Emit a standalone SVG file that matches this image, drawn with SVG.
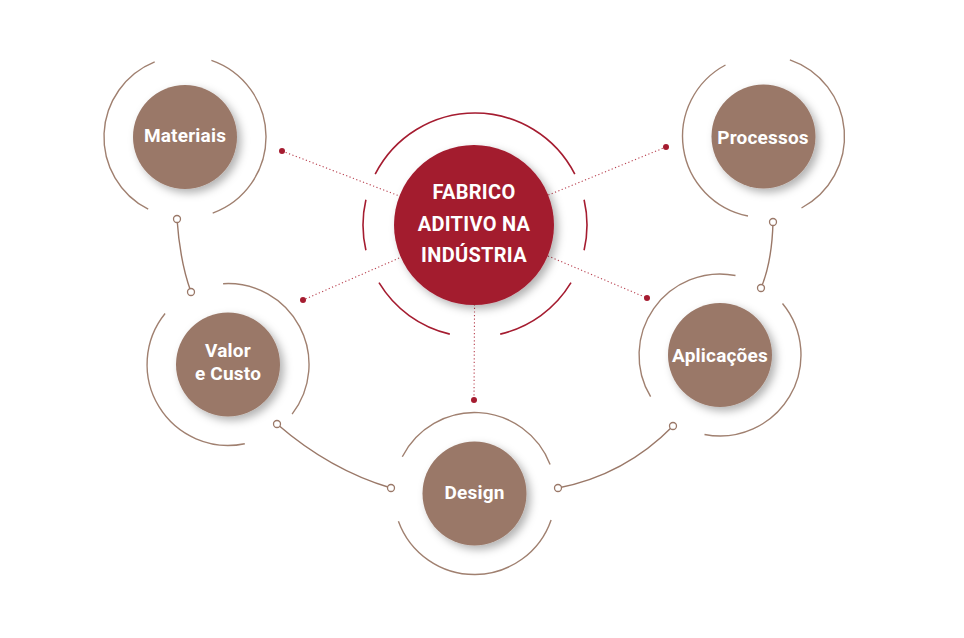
<svg xmlns="http://www.w3.org/2000/svg" width="964" height="638" viewBox="0 0 964 638">
<defs>
<filter id="sh" x="-30%" y="-30%" width="170%" height="170%">
<feDropShadow dx="4" dy="4" stdDeviation="4" flood-color="#000" flood-opacity="0.3"/>
</filter>
<style>
.ring{fill:none;stroke:#a08070;stroke-width:1.4}
.cring{fill:none;stroke:#a51c30;stroke-width:1.6}
.sat{fill:#9a7868;filter:url(#sh)}
.ctr{fill:#a31b2f;filter:url(#sh)}
.lbl{fill:#fff;font-family:Roboto,"Liberation Sans",sans-serif;font-weight:700;font-size:19px;text-anchor:middle;letter-spacing:0.2px}
.clbl{fill:#fff;font-family:Roboto,"Liberation Sans",sans-serif;font-weight:700;font-size:20px;text-anchor:middle;letter-spacing:0.3px}
.dot{fill:none;stroke:#b8404f;stroke-width:1.1;stroke-dasharray:1.2 2.4}
.rdot{fill:#a51c30}
.conn{fill:none;stroke:#9a7868;stroke-width:1.4}
.end{fill:#fff;stroke:#9a7868;stroke-width:1.3}
</style>
</defs>
<rect width="964" height="638" fill="#fff"/>
<g id="connectors">
<line class="dot" x1="475" y1="225" x2="282" y2="151"/>
<line class="dot" x1="475" y1="225" x2="666" y2="147"/>
<line class="dot" x1="475" y1="225" x2="303" y2="300"/>
<line class="dot" x1="475" y1="225" x2="647" y2="298"/>
<line class="dot" x1="475" y1="225" x2="474" y2="400"/>
<circle class="rdot" cx="282" cy="151" r="3"/>
<circle class="rdot" cx="666" cy="147" r="3"/>
<circle class="rdot" cx="303" cy="300" r="3"/>
<circle class="rdot" cx="647" cy="298" r="3"/>
<circle class="rdot" cx="474" cy="400" r="3"/>
<path class="conn" d="M177,219 Q180,262 191,292"/>
<path class="conn" d="M773,222 Q772,262 761,288"/>
<path class="conn" d="M277,424 Q330,470 391,488"/>
<path class="conn" d="M558,488 Q625,475 673,426"/>
<circle class="end" cx="177" cy="219" r="3.5"/>
<circle class="end" cx="191" cy="292" r="3.5"/>
<circle class="end" cx="773" cy="222" r="3.5"/>
<circle class="end" cx="761" cy="288" r="3.5"/>
<circle class="end" cx="277" cy="424" r="3.5"/>
<circle class="end" cx="391" cy="488" r="3.5"/>
<circle class="end" cx="558" cy="488" r="3.5"/>
<circle class="end" cx="673" cy="426" r="3.5"/>
</g>
<g id="center">
<path class="cring" d="M375.2,174.2 A112,112 0 0 1 574.8,174.2"/>
<path class="cring" d="M365.9,250.2 A112,112 0 0 1 365.9,199.8"/>
<path class="cring" d="M584.1,199.8 A112,112 0 0 1 584.1,250.2"/>
<path class="cring" d="M571,282.7 A112,112 0 0 1 500.2,334.1"/>
<path class="cring" d="M449.8,334.1 A112,112 0 0 1 379,282.7"/>
<circle class="ctr" cx="474" cy="225" r="80"/>
<text class="clbl" x="474" y="199">FABRICO</text>
<text class="clbl" x="474" y="231">ADITIVO NA</text>
<text class="clbl" x="474" y="262">INDÚSTRIA</text>
</g>
<g id="materiais">
<path class="ring" d="M148.2,209.2 A81,81 0 0 1 154.7,61.9"/>
<path class="ring" d="M211.4,60.4 A81,81 0 0 1 212.7,213.1"/>
<circle class="sat" cx="185" cy="137" r="52"/>
<text class="lbl" x="185" y="142">Materiais</text>
</g>
<g id="processos">
<path class="ring" d="M748,216 A81,81 0 0 1 725.5,65"/>
<path class="ring" d="M789.9,59.9 A81,81 0 0 1 801.5,208"/>
<circle class="sat" cx="763.5" cy="136.5" r="52"/>
<text class="lbl" x="763" y="144">Processos</text>
</g>
<g id="valor">
<path class="ring" d="M244.8,443.7 A81,81 0 0 1 165.1,313.5"/>
<path class="ring" d="M223.1,283.7 A81,81 0 0 1 292.1,414.1"/>
<circle class="sat" cx="228" cy="364.5" r="52"/>
<text class="lbl" x="228" y="357">Valor</text>
<text class="lbl" x="228" y="380">e Custo</text>
</g>
<g id="design">
<path class="ring" d="M402.3,456.7 A81,81 0 0 1 550.1,464.5"/>
<path class="ring" d="M551.1,519.9 A81,81 0 0 1 398.4,521.2"/>
<circle class="sat" cx="474.5" cy="493.5" r="52"/>
<text class="lbl" x="474.5" y="499">Design</text>
</g>
<g id="aplicacoes">
<path class="ring" d="M650.6,396.7 A81,81 0 0 1 735.5,275.5"/>
<path class="ring" d="M782.5,303.5 A81,81 0 0 1 704.5,434.5"/>
<circle class="sat" cx="720" cy="355" r="52"/>
<text class="lbl" x="720" y="362">Aplicações</text>
</g>
</svg>
